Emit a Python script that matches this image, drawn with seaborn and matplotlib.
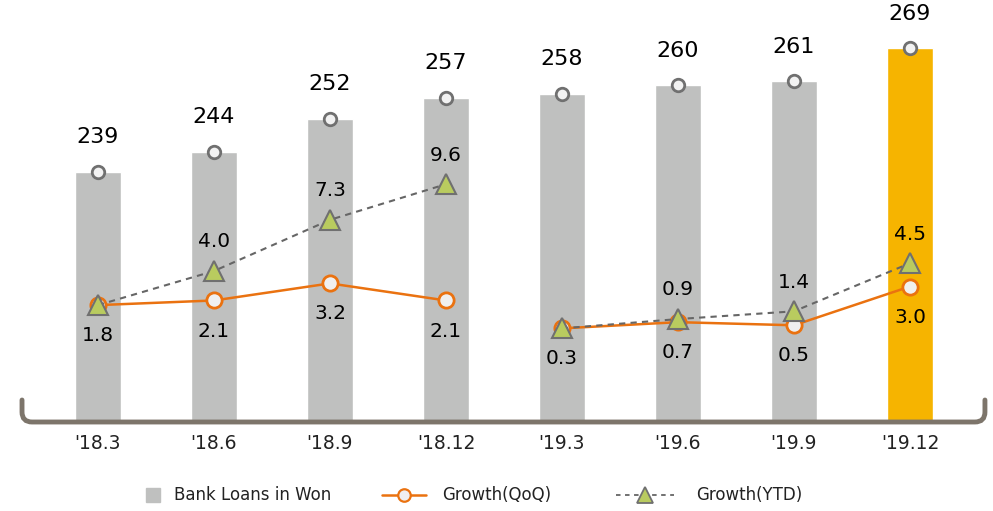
import numpy as np
import pandas as pd
import seaborn as sns
import matplotlib
matplotlib.use("Agg")
import matplotlib.pyplot as plt
from matplotlib.path import Path
from matplotlib.patches import PathPatch
from matplotlib.lines import Line2D
import matplotlib.transforms as mtransforms

categories = ["'18.3", "'18.6", "'18.9", "'18.12", "'19.3", "'19.6", "'19.9", "'19.12"]
loans = [239, 244, 252, 257, 258, 260, 261, 269]
qoq = [1.8, 2.1, 3.2, 2.1, 0.3, 0.7, 0.5, 3.0]
ytd = [1.8, 4.0, 7.3, 9.6, 0.3, 0.9, 1.4, 4.5]
years = ["2018"] * 4 + ["2019"] * 4
legend_labels = ["Bank Loans in Won", "Growth(QoQ)", "Growth(YTD)"]

sns.set_theme(style="white")
plt.rcParams['font.family'] = ['DejaVu Sans']

GRAY = "#bfc0bf"
GOLD = "#f6b400"
ORANGE = "#ea7210"
GREEN = "#b9cb5f"
EDGE = "#707070"
W, H = 993, 511

fig = plt.figure(figsize=(9.93, 5.11), dpi=100)
ax = fig.add_axes([0, 91 / H, 1, 420 / H])
x = np.arange(len(categories))
df = pd.DataFrame({"cat": categories, "loans": loans, "qoq": qoq, "ytd": ytd,
                   "year": years, "x": x})
pal = [GRAY] * 7 + [GOLD]
sns.barplot(data=df, x="cat", y="loans", hue="cat", palette=pal, legend=False,
            width=0.39, ax=ax, saturation=1)
ax.set_ylim(179, 280.7)
ax.set_xlim(-0.845, 7.716)
ax.plot(x, loans, ls="none", marker="o", ms=9, mfc="#f2f2f2", mec=EDGE, mew=2, zorder=5)
for xi, v in zip(x, loans):
    ax.annotate(f"{v}", (xi, v), xytext=(0, 25), textcoords="offset points",
                ha="center", va="center", fontsize=16, color="black")
for s in ax.spines.values():
    s.set_visible(False)
ax.set_xticks([]); ax.set_yticks([])
ax.set_xlabel(""); ax.set_ylabel("")

# bracket baseline
trans = mtransforms.blended_transform_factory(ax.transData, fig.transFigure)
x0 = (22 - 98) / 116; x1 = (985 - 98) / 116
yb = (H - 422) / H; yt = (H - 400) / H
dx = 10 / 116; dy = 10 / H
verts = [(x0, yt), (x0, yb + dy), (x0, yb), (x0 + dx, yb), (x1 - dx, yb), (x1, yb), (x1, yb + dy), (x1, yt)]
codes = [Path.MOVETO, Path.LINETO, Path.CURVE3, Path.CURVE3, Path.LINETO, Path.CURVE3, Path.CURVE3, Path.LINETO]
fig.add_artist(PathPatch(Path(verts, codes), transform=trans, fill=False,
                         edgecolor="#7d756b", lw=3.5, capstyle="round", clip_on=False))

for xi, c in zip(x, categories):
    fig.text((98 + 116 * xi) / W, (H - 443) / H, c, ha="center", va="center",
             fontsize=13.5, color="#222222")

ax2 = ax.twinx()
ax2.set_ylim(-5.61, 21.48)
for s in ax2.spines.values():
    s.set_visible(False)
ax2.set_yticks([])
for yr in ["2018", "2019"]:
    sub = df[df.year == yr]
    sns.lineplot(data=sub, x="x", y="qoq", ax=ax2, color=ORANGE, lw=1.8,
                 marker="o", markersize=11, markerfacecolor="#f0f0f0",
                 markeredgecolor=ORANGE, markeredgewidth=2, zorder=5)
    sns.lineplot(data=sub, x="x", y="ytd", ax=ax2, color="#666666", lw=1.5,
                 linestyle=(0, (3, 2.5)), marker="^", markersize=15,
                 markerfacecolor=GREEN, markeredgecolor=EDGE, markeredgewidth=1.5, zorder=6)
ax2.set_xlim(-0.845, 7.716)
ax2.set_xlabel(""); ax2.set_ylabel("")
ax2.set_xticks([])

for i in range(len(x)):
    ax2.annotate(f"{qoq[i]:.1f}", (x[i], qoq[i]), xytext=(0, -22), textcoords="offset points",
                 ha="center", va="center", fontsize=14.5, color="black")
    if i not in (0, 4):
        ax2.annotate(f"{ytd[i]:.1f}", (x[i], ytd[i]), xytext=(0, 21), textcoords="offset points",
                     ha="center", va="center", fontsize=14.5, color="black")

# manual legend
ly = (H - 495) / H
fig.add_artist(Line2D([152.5 / W], [ly], marker="s", ms=9.5, color=GRAY, ls="none"))
fig.add_artist(Line2D([382 / W, 426 / W], [ly, ly], color=ORANGE, lw=1.8))
fig.add_artist(Line2D([404 / W], [ly], marker="o", ms=9, mfc="#f0f0f0", mec=ORANGE, mew=1.6, ls="none"))
fig.add_artist(Line2D([616 / W, 674 / W], [ly, ly], color="#666666", lw=1.3, ls=(0, (2.5, 2.5))))
fig.add_artist(Line2D([645 / W], [ly], marker="^", ms=12, mfc=GREEN, mec=EDGE, mew=1.3, ls="none"))
for tx, lab in zip([174, 442, 696], legend_labels):
    fig.text(tx / W, ly, lab, ha="left", va="center", fontsize=12, color="#222222")

fig.savefig("out.png", dpi=100)
